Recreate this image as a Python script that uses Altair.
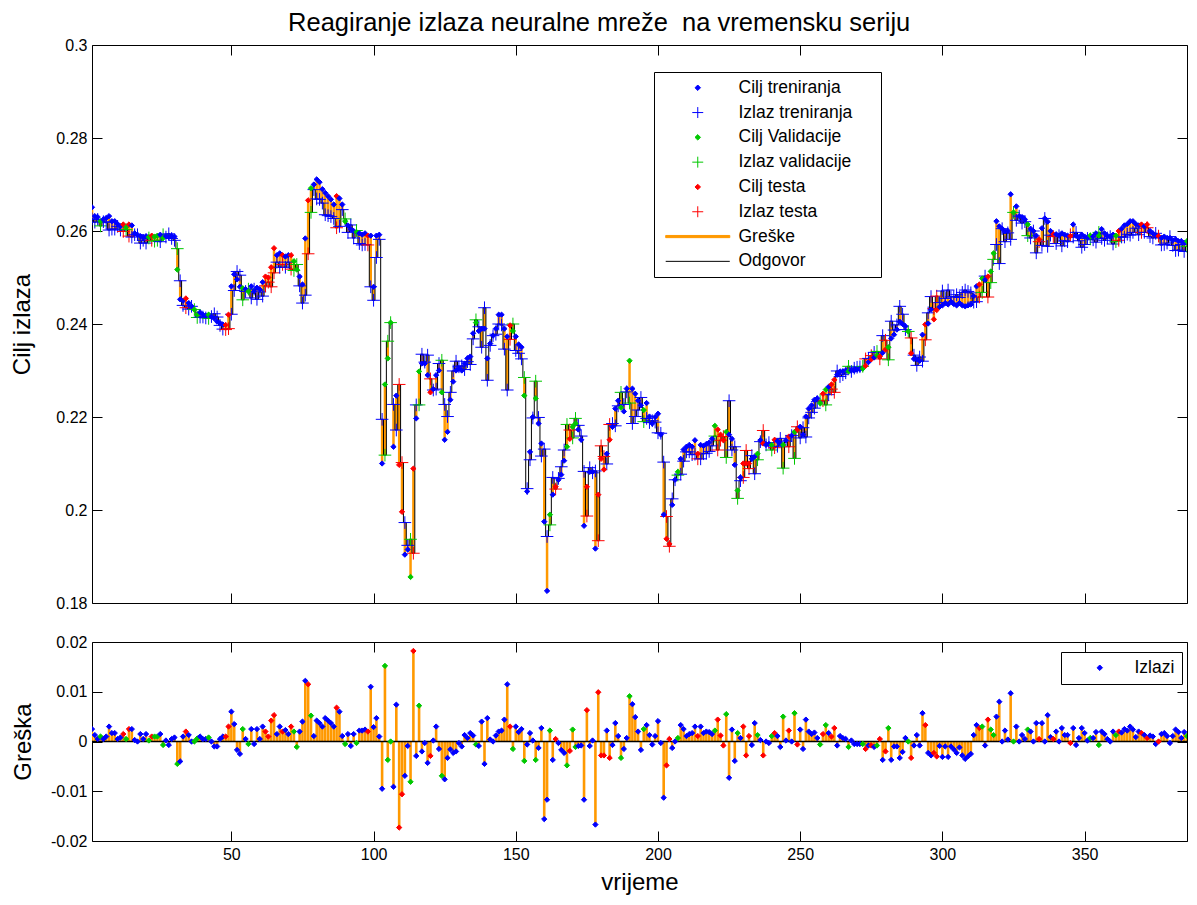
import altair as alt
import pandas as pd

# ---------------- data ----------------
cilj = [
    0.2651, 0.2632, 0.2630, 0.2621, 0.2625, 0.2628, 0.2632, 0.2621, 0.2621, 0.2615,
    0.2610, 0.2614, 0.2608, 0.2614, 0.2612, 0.2595, 0.2592, 0.2589, 0.2585, 0.2589,
    0.2587, 0.2590, 0.2588, 0.2590, 0.2592, 0.2585, 0.2589, 0.2587, 0.2589, 0.2588,
    0.2517, 0.2453, 0.2450, 0.2455, 0.2445, 0.2438, 0.2431, 0.2420, 0.2425, 0.2420,
    0.2418, 0.2420, 0.2416, 0.2412, 0.2405, 0.2402, 0.2399, 0.2398, 0.2420, 0.2481,
    0.2507, 0.2496, 0.2480, 0.2477, 0.2475, 0.2470, 0.2481, 0.2470, 0.2478, 0.2474,
    0.2490, 0.2502, 0.2500, 0.2522, 0.2563, 0.2548, 0.2552, 0.2548, 0.2545, 0.2548,
    0.2548, 0.2535, 0.2517, 0.2502, 0.2485, 0.2584, 0.2666, 0.2692, 0.2700, 0.2711,
    0.2705, 0.2690, 0.2682, 0.2675, 0.2668, 0.2657, 0.2675, 0.2670, 0.2657, 0.2621,
    0.2612, 0.2604, 0.2600, 0.2598, 0.2595, 0.2592, 0.2595, 0.2590, 0.2590, 0.2480,
    0.2590, 0.2592, 0.2100, 0.2270, 0.2326, 0.2403, 0.2136, 0.2246, 0.2097, 0.1996,
    0.1904, 0.1915, 0.1856, 0.2089, 0.2197, 0.2298, 0.2315, 0.2315, 0.2290, 0.2253,
    0.2260, 0.2290, 0.2300, 0.2253, 0.2151, 0.2168, 0.2237, 0.2276, 0.2300, 0.2305,
    0.2300, 0.2315, 0.2326, 0.2330, 0.2380, 0.2403, 0.2385, 0.2390, 0.2390, 0.2326,
    0.2358, 0.2375, 0.2390, 0.2420, 0.2420, 0.2390, 0.2373, 0.2397, 0.2385, 0.2373,
    0.2356, 0.2350, 0.2246, 0.2040, 0.2125, 0.2200, 0.2240, 0.2186, 0.2143, 0.1975,
    0.1826, 0.1990, 0.2033, 0.2050, 0.2065, 0.2076, 0.2106, 0.2136, 0.2153, 0.2179,
    0.2186, 0.2173, 0.2151, 0.1966, 0.2050, 0.2082, 0.2082, 0.1917, 0.2033, 0.2110,
    0.2087, 0.2121, 0.2151, 0.2179, 0.2218, 0.2235, 0.2220, 0.2212, 0.2261, 0.2321,
    0.2261, 0.2250, 0.2235, 0.2225, 0.2215, 0.2230, 0.2201, 0.2186, 0.2200, 0.2207,
    0.2162, 0.1990, 0.1938, 0.1927, 0.2011, 0.2065, 0.2082, 0.2110, 0.2130, 0.2136,
    0.2140, 0.2136, 0.2150, 0.2121, 0.2140, 0.2138, 0.2142, 0.2145, 0.2153, 0.2181,
    0.2173, 0.2162, 0.2150, 0.2168, 0.2162, 0.2153, 0.2097, 0.2042, 0.2070, 0.2100,
    0.2100, 0.2100, 0.2110, 0.2115, 0.2121, 0.2150, 0.2143, 0.2140, 0.2142, 0.2140,
    0.2151, 0.2148, 0.2143, 0.2140, 0.2150, 0.2158, 0.2160, 0.2168, 0.2173, 0.2179,
    0.2162, 0.2201, 0.2218, 0.2225, 0.2237, 0.2240, 0.2230, 0.2250, 0.2259, 0.2265,
    0.2270, 0.2280, 0.2291, 0.2298, 0.2298, 0.2300, 0.2298, 0.2300, 0.2300, 0.2302,
    0.2303, 0.2304, 0.2310, 0.2318, 0.2324, 0.2328, 0.2333, 0.2330, 0.2338, 0.2345,
    0.2350, 0.2369, 0.2377, 0.2388, 0.2405, 0.2400, 0.2395, 0.2384, 0.2337, 0.2325,
    0.2324, 0.2321, 0.2377, 0.2399, 0.2401, 0.2431, 0.2410, 0.2430, 0.2437, 0.2440,
    0.2445, 0.2442, 0.2448, 0.2443, 0.2440, 0.2445, 0.2440, 0.2438, 0.2440, 0.2442,
    0.2460, 0.2481, 0.2485, 0.2498, 0.2495, 0.2502, 0.2513, 0.2552, 0.2621, 0.2610,
    0.2605, 0.2599, 0.2600, 0.2679, 0.2640, 0.2653, 0.2632, 0.2630, 0.2625, 0.2614,
    0.2605, 0.2600, 0.2590, 0.2582, 0.2606, 0.2627, 0.2620, 0.2600, 0.2593, 0.2593,
    0.2590, 0.2595, 0.2592, 0.2590, 0.2589, 0.2614, 0.2590, 0.2586, 0.2592, 0.2588,
    0.2586, 0.2590, 0.2588, 0.2595, 0.2590, 0.2604, 0.2595, 0.2590, 0.2588, 0.2592,
    0.2590, 0.2600, 0.2605, 0.2612, 0.2615, 0.2621, 0.2621, 0.2615, 0.2612, 0.2614,
    0.2610, 0.2614, 0.2600, 0.2595, 0.2590, 0.2589, 0.2585, 0.2588, 0.2585, 0.2585,
    0.2580, 0.2582, 0.2578, 0.2578, 0.2575, 0.2578,
]

greska = [
    0.0025, 0.0013, 0.0005, 0.0010, 0.0005, 0.0010, 0.0030, 0.0017, 0.0017, 0.0005,
    0.0008, 0.0015, 0.0005, 0.0025, 0.0025, 0.0003, 0.0000, 0.0015, 0.0005, 0.0015,
    0.0002, 0.0010, 0.0010, 0.0010, 0.0015, -0.0007, 0.0002, -0.0007, 0.0005, 0.0008,
    -0.0045, -0.0040, 0.0010, 0.0020, 0.0013, 0.0000, 0.0000, 0.0006, 0.0010, 0.0005,
    0.0005, 0.0008, 0.0000, -0.0010, -0.0010, 0.0005, 0.0010, 0.0010, 0.0030, 0.0060,
    0.0035, -0.0017, -0.0025, 0.0025, 0.0005, -0.0005, 0.0025, -0.0005, 0.0025, 0.0005,
    0.0030, 0.0020, 0.0010, 0.0042, 0.0053, 0.0015, 0.0030, 0.0020, 0.0023, 0.0015,
    0.0030, 0.0020, -0.0011, 0.0020, 0.0040, 0.0122, 0.0115, 0.0052, 0.0011, 0.0042,
    0.0037, 0.0030, 0.0047, 0.0042, 0.0037, 0.0030, 0.0068, 0.0060, 0.0011, -0.0005,
    0.0015, -0.0009, 0.0015, -0.0003, 0.0022, 0.0022, 0.0024, 0.0020, 0.0110, 0.0029,
    0.0047, 0.0010, -0.0095, 0.0152, -0.0037, 0.0000, -0.0091, 0.0074, -0.0173, -0.0106,
    -0.0069, -0.0009, -0.0081, 0.0182, -0.0029, 0.0072, -0.0020, -0.0003, -0.0043, -0.0029,
    0.0002, 0.0030, -0.0015, -0.0069, -0.0076, -0.0033, -0.0016, -0.0023, -0.0020, -0.0003,
    -0.0010, 0.0013, 0.0007, 0.0017, 0.0012, -0.0006, -0.0009, 0.0040, -0.0045, 0.0047,
    0.0004, 0.0000, 0.0012, 0.0020, 0.0022, 0.0044, 0.0115, 0.0030, -0.0015, 0.0030,
    0.0019, 0.0025, -0.0039, -0.0006, 0.0017, 0.0002, -0.0037, -0.0013, 0.0027, -0.0156,
    -0.0117, 0.0022, -0.0037, 0.0005, -0.0003, -0.0017, -0.0023, -0.0048, -0.0019, 0.0024,
    -0.0011, -0.0009, -0.0008, -0.0117, 0.0063, -0.0009, 0.0002, -0.0167, 0.0099, -0.0028,
    -0.0028, 0.0022, -0.0033, -0.0007, 0.0037, 0.0011, -0.0033, -0.0015, 0.0007, 0.0091,
    0.0075, 0.0049, 0.0020, -0.0017, 0.0025, 0.0033, 0.0013, -0.0006, 0.0011, 0.0041,
    -0.0003, -0.0113, -0.0048, 0.0005, -0.0013, 0.0000, 0.0007, 0.0033, 0.0025, 0.0011,
    0.0015, 0.0017, 0.0030, 0.0011, 0.0030, 0.0017, 0.0020, 0.0019, 0.0015, 0.0022,
    0.0044, 0.0012, -0.0008, 0.0055, -0.0073, 0.0024, -0.0039, 0.0017, 0.0007, 0.0030,
    -0.0028, 0.0011, -0.0007, 0.0037, 0.0013, 0.0003, -0.0028, 0.0000, -0.0003, 0.0011,
    0.0017, 0.0011, -0.0011, 0.0050, 0.0002, 0.0022, 0.0000, 0.0057, -0.0006, 0.0024,
    -0.0015, 0.0044, 0.0020, 0.0015, 0.0018, 0.0007, -0.0006, 0.0015, 0.0033, 0.0017,
    0.0010, 0.0027, -0.0008, 0.0011, 0.0007, 0.0005, -0.0011, 0.0002, -0.0005, -0.0005,
    -0.0005, -0.0005, -0.0015, -0.0008, -0.0008, -0.0011, -0.0008, 0.0005, -0.0037, -0.0020,
    0.0027, -0.0037, -0.0010, -0.0010, -0.0033, -0.0021, 0.0007, 0.0000, -0.0033, -0.0008,
    0.0013, -0.0008, 0.0057, 0.0033, -0.0023, -0.0028, -0.0023, -0.0030, -0.0009, -0.0031,
    -0.0010, -0.0031, -0.0010, -0.0016, -0.0023, -0.0012, -0.0028, -0.0035, -0.0030, -0.0025,
    0.0013, 0.0033, 0.0027, 0.0030, -0.0008, 0.0044, 0.0024, 0.0013, 0.0050, 0.0080,
    0.0000, 0.0022, 0.0004, 0.0097, 0.0000, 0.0030, 0.0000, 0.0013, 0.0005, 0.0024,
    0.0020, 0.0000, 0.0037, 0.0005, 0.0037, 0.0000, 0.0053, 0.0009, 0.0005, 0.0020,
    0.0000, 0.0027, 0.0013, 0.0013, -0.0003, 0.0027, -0.0007, 0.0007, 0.0027, 0.0017,
    0.0002, 0.0007, 0.0007, 0.0019, -0.0007, 0.0020, 0.0015, 0.0005, 0.0000, 0.0020,
    0.0013, 0.0020, 0.0018, 0.0025, 0.0022, 0.0030, 0.0024, 0.0009, 0.0020, 0.0017,
    0.0013, 0.0007, 0.0012, 0.0010, -0.0005, 0.0000, 0.0015, 0.0017, 0.0011, -0.0003,
    0.0011, 0.0024, 0.0019, 0.0007, 0.0019, 0.0011,
]

# T = treniranje, V = validacija, S = test
skup = "".join([
    "TTTVTTTTTT", "TSVSTTTTTT", "VSVVTVTTTT", "VTTSTTVVTT", "TVTTTTTSST",
    "TTTVTVTTTT", "TSSSSTTSTT", "SVVTTTSVTT", "TTTTTTSTTV", "TTTVTTTSTT",
    "TTTVVVTTSS", "TTVSTVTTTS", "TTTVTTTTTT", "TTTTTVTTTT", "TTTTTTTSVT",
    "TTVTTTVTTT", "TVTSTTTVSV", "VTTTSTTTSS", "STSTTTVTTV", "TTTTVTTTTT",
    "TTSSTTVTTT", "TTTSTTTTTV", "SSSVTTTVTS", "SSTTVTSTTV", "STTVTSTVST",
    "TTTTTTVSVT", "SSTTTTVTTT", "TVSTSTVSTS", "VTTTTTTVST", "TTTSTTSSTT",
    "TTTTTTTTTT", "TTSVTSVVTT", "TTTTVTTTTV", "TTTSTTTTST", "TTTTSTTTTT",
    "TVTTVTTTTT", "VSTTTTTTTS", "TSTTTSTTTT", "TTTTTV",
])

x_ticks = [50, 100, 150, 200, 250, 300, 350]
y_ticks_top = [0.18, 0.2, 0.22, 0.24, 0.26, 0.28, 0.3]
y_ticks_bottom = [-0.02, -0.01, 0, 0.01, 0.02]

legend_labels = ["Cilj treniranja", "Izlaz treniranja", "Cilj Validacije", "Izlaz validacije",
                 "Cilj testa", "Izlaz testa", "Greške", "Odgovor"]

# ---------------- styling ----------------
FONT = "Liberation Sans"
BLUE, GREEN, RED, ORANGE = "#0000ff", "#00c800", "#ff0000", "#ff9900"
DIAMOND = "M0,-1L1,0L0,1L-1,0Z"
PLUS = "M-2,0L2,0M0,-2L0,2"
LINE_THICK = "M-11.7,-0.4L11.7,-0.4L11.7,0.4L-11.7,0.4Z"
LINE_THIN = "M-11.7,0L11.7,0"
TICK = 10
LEG_FS = 17.5

n = len(cilj)
df = pd.DataFrame({"t": list(range(1, n + 1)), "cilj": cilj, "greska": greska, "skup": list(skup)})
df["izlaz"] = df["cilj"] - df["greska"]
df["lab"] = df["skup"].map({"T": "Cilj treniranja", "V": "Cilj Validacije", "S": "Cilj testa"})
df["lb"] = df["skup"].map({"T": "Izlazi", "V": "Validacija", "S": "Test"})
df["nula"] = 0.0

set_scale = alt.Scale(domain=["T", "V", "S"], range=[BLUE, GREEN, RED])
xs = alt.Scale(domain=[1, n], nice=False, zero=False)
ys_top = alt.Scale(domain=[0.18, 0.30], nice=False, zero=False)
ys_bot = alt.Scale(domain=[-0.02, 0.02], nice=False, zero=False)


def axis(orient, values, labels=False, title=None, title_pad=0):
    kw = dict(orient=orient, values=values, labels=labels, ticks=True, tickSize=TICK,
              offset=-TICK, domain=False, grid=False, tickColor="black", tickWidth=1,
              minExtent=0)
    if labels:
        kw.update(labelFont=FONT, labelFontSize=16, labelColor="black", labelPadding=5,
                  labelFlush=False, labelExpr="datum.value + ''")
    if title:
        kw.update(title=title, titleFont=FONT, titleFontSize=24, titleFontWeight="normal",
                  titleColor="black", titlePadding=title_pad)
    else:
        kw["title"] = None
    return alt.Axis(**kw)


base = alt.Chart(df)

# ---------------- top panel ----------------
err_top = base.mark_rule(color=ORANGE, strokeWidth=2.5, clip=True).encode(
    x=alt.X("t:Q", scale=xs, axis=axis("bottom", x_ticks)),
    y=alt.Y("cilj:Q", scale=ys_top, axis=axis("left", y_ticks_top, True, "Cilj izlaza", 21)),
    y2="izlaz:Q",
)

ax_top_x = axis("top", x_ticks)
ax_top_y = axis("right", y_ticks_top)

resp = base.mark_line(color="black", strokeWidth=1, interpolate="step", clip=True).encode(
    x=alt.X("t:Q", scale=xs, axis=ax_top_x),
    y=alt.Y("izlaz:Q", scale=ys_top, axis=ax_top_y),
)

crosses = base.mark_point(shape=PLUS, filled=False, size=40, strokeWidth=1, opacity=1, clip=True).encode(
    x=alt.X("t:Q", scale=xs, axis=ax_top_x),
    y=alt.Y("izlaz:Q", scale=ys_top, axis=ax_top_y),
    color=alt.Color("skup:N", scale=set_scale, legend=None),
)

leg_top = alt.Legend(
    title="\u00a0", titleOrient="right", titlePadding=22, titleFontSize=4,
    orient="none", legendX=562, legendY=27,
    strokeColor="black", fillColor="white", padding=7, cornerRadius=0,
    labelFont=FONT, labelFontSize=LEG_FS, labelColor="black",
    symbolSize=30, symbolStrokeWidth=1, symbolOffset=28, labelOffset=32,
    rowPadding=5.8, symbolLimit=0,
)
leg_dom = legend_labels
leg_col = [BLUE, BLUE, GREEN, GREEN, RED, RED, ORANGE, "black"]
leg_shape = [DIAMOND, PLUS, DIAMOND, PLUS, DIAMOND, PLUS, LINE_THICK, LINE_THIN]

dots = base.mark_point(filled=True, size=28, strokeWidth=1, opacity=1, clip=True).encode(
    x=alt.X("t:Q", scale=xs, axis=ax_top_x),
    y=alt.Y("cilj:Q", scale=ys_top, axis=ax_top_y),
    fill=alt.Fill("lab:N", scale=alt.Scale(domain=leg_dom, range=leg_col), legend=leg_top),
    stroke=alt.Stroke("lab:N", scale=alt.Scale(domain=leg_dom, range=leg_col), legend=leg_top),
    shape=alt.Shape("lab:N", scale=alt.Scale(domain=leg_dom, range=leg_shape), legend=leg_top),
)

top = alt.layer(err_top, alt.layer(resp, crosses, dots)).resolve_scale(
    x="independent", y="independent").properties(width=1095, height=558)

# ---------------- bottom panel ----------------
err_bot = base.mark_rule(color=ORANGE, strokeWidth=2.6, clip=True).encode(
    x=alt.X("t:Q", scale=xs, axis=axis("bottom", x_ticks, True, "vrijeme", 8)),
    y=alt.Y("greska:Q", scale=ys_bot, axis=axis("left", y_ticks_bottom, True, "Greška", 15.5)),
    y2="nula:Q",
)

bx = axis("top", x_ticks)
by = axis("right", y_ticks_bottom)

zero_line = base.mark_line(color="black", strokeWidth=1.3, clip=True).encode(
    x=alt.X("t:Q", scale=xs, axis=bx),
    y=alt.Y("nula:Q", scale=ys_bot, axis=by),
)

leg_bot = alt.Legend(
    title=None, orient="none", legendX=969, legendY=10, values=["Izlazi"],
    strokeColor="black", fillColor="white", padding=7, cornerRadius=0,
    labelFont=FONT, labelFontSize=LEG_FS, labelColor="black",
    symbolType=DIAMOND, symbolSize=30, symbolStrokeWidth=1, symbolOffset=23, labelOffset=26,
)
lb_scale = alt.Scale(domain=["Izlazi", "Validacija", "Test"], range=[BLUE, GREEN, RED])

pts = base.mark_point(shape=DIAMOND, filled=True, size=28, strokeWidth=1, opacity=1, clip=True).encode(
    x=alt.X("t:Q", scale=xs, axis=bx),
    y=alt.Y("greska:Q", scale=ys_bot, axis=by),
    fill=alt.Fill("lb:N", scale=lb_scale, legend=leg_bot),
    stroke=alt.Stroke("lb:N", scale=lb_scale, legend=leg_bot),
)

bottom = alt.layer(err_bot, alt.layer(zero_line, pts)).resolve_scale(
    x="independent", y="independent").properties(width=1095, height=199)

chart = alt.vconcat(top, bottom, spacing=21).resolve_scale(
    fill="independent", stroke="independent", shape="independent", color="independent"
).resolve_legend(
    fill="independent", stroke="independent", shape="independent", color="independent"
).properties(
    title=alt.TitleParams("Reagiranje izlaza neuralne mreže\u00a0 na vremensku seriju",
                          font=FONT, fontSize=25.5, fontWeight="normal", color="black",
                          anchor="middle", offset=0),
    background="white",
    padding={"left": 2, "top": 3, "right": 0, "bottom": 0},
).configure_view(stroke="black", strokeWidth=1)

chart.save("out.html", embed_options={"renderer": "svg", "actions": False})
